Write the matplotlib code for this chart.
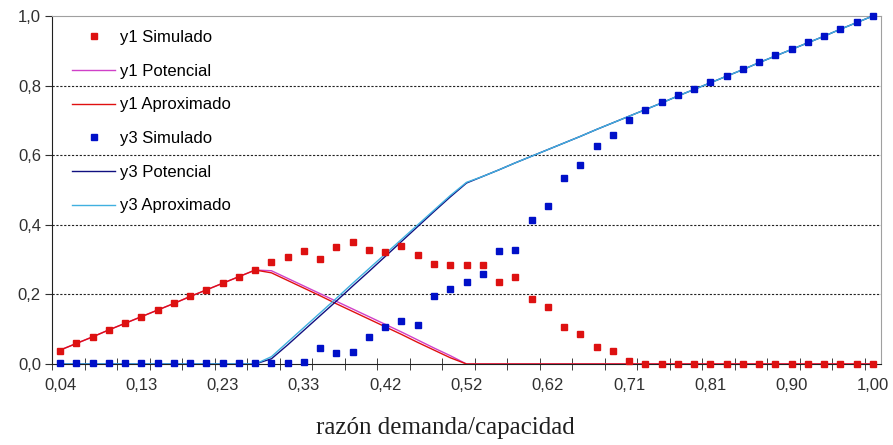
import matplotlib
matplotlib.use("Agg")
import matplotlib.pyplot as plt
import numpy as np

# tick labels as printed on the category axis (every 5th category)
etiquetas_x = ["0,04", "0,13", "0,23", "0,33", "0,42", "0,52", "0,62", "0,71", "0,81", "0,90", "1,00"]
n_cat = 51

y1_simulado = [0.038, 0.061, 0.078, 0.098, 0.117, 0.135, 0.154, 0.176, 0.195, 0.213,
               0.232, 0.251, 0.270, 0.292, 0.307, 0.326, 0.303, 0.336, 0.351, 0.328,
               0.321, 0.340, 0.313, 0.287, 0.284, 0.284, 0.284, 0.235, 0.250, 0.187,
               0.165, 0.105, 0.086, 0.049, 0.037, 0.010, 0.0, 0.0, 0.0, 0.0,
               0.0, 0.0, 0.0, 0.0, 0.0, 0.0, 0.0, 0.0, 0.0, 0.0, 0.0]
y1_potencial = [0.040, 0.059, 0.078, 0.098, 0.117, 0.136, 0.155, 0.174, 0.194, 0.213,
                0.232, 0.251, 0.270, 0.268, 0.246, 0.224, 0.202, 0.180, 0.158, 0.136,
                0.114, 0.092, 0.069, 0.046, 0.024, 0.0, 0.0, 0.0, 0.0, 0.0,
                0.0, 0.0, 0.0, 0.0, 0.0, 0.0, 0.0, 0.0, 0.0, 0.0,
                0.0, 0.0, 0.0, 0.0, 0.0, 0.0, 0.0, 0.0, 0.0, 0.0, 0.0]
y1_aproximado = [0.040, 0.059, 0.078, 0.098, 0.117, 0.136, 0.155, 0.174, 0.194, 0.213,
                 0.232, 0.251, 0.270, 0.262, 0.240, 0.218, 0.196, 0.173, 0.151, 0.129,
                 0.107, 0.085, 0.062, 0.040, 0.018, 0.0, 0.0, 0.0, 0.0, 0.0,
                 0.0, 0.0, 0.0, 0.0, 0.0, 0.0, 0.0, 0.0, 0.0, 0.0,
                 0.0, 0.0, 0.0, 0.0, 0.0, 0.0, 0.0, 0.0, 0.0, 0.0, 0.0]
y3_simulado = [0.002, 0.002, 0.002, 0.002, 0.002, 0.002, 0.002, 0.002, 0.002, 0.002,
               0.002, 0.002, 0.002, 0.002, 0.002, 0.006, 0.045, 0.031, 0.034, 0.078,
               0.105, 0.124, 0.113, 0.195, 0.216, 0.235, 0.258, 0.325, 0.329, 0.414,
               0.455, 0.534, 0.571, 0.626, 0.657, 0.701, 0.731, 0.753, 0.772, 0.789,
               0.809, 0.828, 0.847, 0.868, 0.888, 0.905, 0.924, 0.943, 0.963, 0.984, 1.0]
y3_potencial = [0.0, 0.0, 0.0, 0.0, 0.0, 0.0, 0.0, 0.0, 0.0, 0.0,
                0.0, 0.0, 0.0, 0.015, 0.055, 0.097, 0.139, 0.181, 0.224, 0.266,
                0.309, 0.352, 0.395, 0.438, 0.480, 0.520, 0.539, 0.558, 0.578, 0.597,
                0.616, 0.635, 0.654, 0.674, 0.693, 0.712, 0.731, 0.750, 0.770, 0.789,
                0.808, 0.827, 0.846, 0.866, 0.885, 0.904, 0.923, 0.942, 0.962, 0.981, 1.0]
y3_aproximado = [0.0, 0.0, 0.0, 0.0, 0.0, 0.0, 0.0, 0.0, 0.0, 0.0,
                 0.0, 0.0, 0.0, 0.021, 0.063, 0.105, 0.147, 0.189, 0.232, 0.274,
                 0.316, 0.358, 0.400, 0.442, 0.484, 0.522, 0.539, 0.558, 0.578, 0.597,
                 0.616, 0.635, 0.654, 0.674, 0.693, 0.712, 0.731, 0.750, 0.770, 0.789,
                 0.808, 0.827, 0.846, 0.866, 0.885, 0.904, 0.923, 0.942, 0.962, 0.981, 1.0]

plt.rcParams['font.family'] = ['Liberation Sans', 'DejaVu Sans']

fig = plt.figure(figsize=(8.93, 4.45), dpi=100)
ax = fig.add_axes([52 / 893, 1 - 364 / 445, 829 / 893, 348 / 445])

x = np.arange(n_cat)

ax.plot(x, y1_simulado, ls="none", marker="s", ms=5, color="#dd1111", label="y1 Simulado", clip_on=False, zorder=5)
ax.plot(x, y1_potencial, color="#d040c8", lw=1.0, label="y1 Potencial", zorder=3)
ax.plot(x, y1_aproximado, color="#e01010", lw=1.0, label="y1 Aproximado", zorder=3)
ax.plot(x, y3_simulado, ls="none", marker="s", ms=5, color="#0010c8", label="y3 Simulado", clip_on=False, zorder=5)
ax.plot(x, y3_potencial, color="#101080", lw=1.0, label="y3 Potencial", zorder=3)
ax.plot(x, y3_aproximado, color="#40b0e0", lw=1.0, label="y3 Aproximado", zorder=3)

ax.set_xlim(-0.5, n_cat - 0.5)
ax.set_ylim(0, 1.0)

ax.set_xticks(np.arange(0, n_cat, 5))
ax.set_xticklabels(etiquetas_x, fontsize=12)
ax.set_xticks(np.arange(-0.5, n_cat - 1, 2), minor=True)
ax.tick_params(axis="x", which="major", length=0, pad=10, colors="#303030")
ax.tick_params(axis="x", which="minor", direction="inout", length=8, color="#202020")

ax.set_yticks([0, 0.2, 0.4, 0.6, 0.8, 1.0])
ax.set_yticklabels(["0,0", "0,2", "0,4", "0,6", "0,8", "1,0"], fontsize=12)
ax.tick_params(axis="y", direction="out", length=5, pad=3, colors="#303030")

for g in [0.2, 0.4, 0.6, 0.8]:
    ax.axhline(g, color="#222222", lw=0.8, ls=(0, (2, 1.5)), zorder=1)

ax.spines["left"].set_color("#202020")
ax.spines["bottom"].set_color("#202020")
ax.spines["top"].set_color("#a0a0a0")
ax.spines["right"].set_color("#a0a0a0")

fig.text(445 / 893, 1 - 428 / 445, "razón demanda/capacidad", fontsize=18,
         family="Liberation Serif", ha="center", va="center", color="#202020")

ax.legend(loc="upper left", bbox_to_anchor=(20 / 829, (364 - 30) / 348), frameon=False, fontsize=12,
          handlelength=2.6, labelspacing=1.12, handletextpad=0.25, borderpad=0, borderaxespad=0)

fig.savefig("out.png", dpi=100)
